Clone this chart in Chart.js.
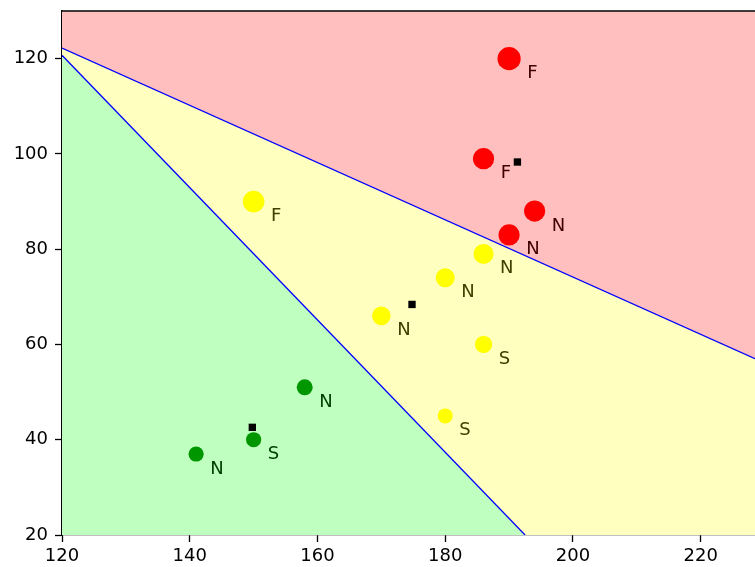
<!DOCTYPE html>
<html lang="en">
<head>
<meta charset="UTF-8">
<title>Clusters</title>
<script src="https://cdn.jsdelivr.net/npm/chart.js"></script>
<style>
  body { margin: 0; background: #fff; overflow: hidden; }
  #wrap { width: 755px; height: 567px; position: relative; }
</style>
</head>
<body>
<div id="wrap"><canvas id="chart"></canvas></div>
<script>
// points per group (x, y, label)
const redX = [190, 186, 194, 190];
const redY = [120, 99, 88, 83];
const redLabels = ['F', 'F', 'N', 'N'];

const yellowX = [150, 186, 180, 170, 186, 180];
const yellowY = [90, 79, 74, 66, 60, 45];
const yellowLabels = ['F', 'N', 'N', 'N', 'S', 'S'];

const greenX = [158, 150, 141];
const greenY = [51, 40, 37];
const greenLabels = ['N', 'S', 'N'];

// group centres (black squares)
const centreX = [191.3, 174.8, 149.8];
const centreY = [98.3, 68.4, 42.6];

// boundary lines
const line1X = [120, 228.5];
const line1Y = [122.2, 57];
const line2X = [120, 192.5];
const line2Y = [120.7, 20];

const xTicks = [120, 140, 160, 180, 200, 220];
const yTicks = [20, 40, 60, 80, 100, 120];

// marker radius (px) for each point
const redR = [11.6, 10.6, 10.6, 10.6];
const yellowR = [10.8, 10, 9.5, 9.3, 8.6, 7.5];
const greenR = [8, 7.6, 7.6];

function pts(xs, ys) {
    return xs.map((x, i) => ({ x: x, y: ys[i] }));
}

function lineAt(lx, ly, x) {
    return ly[0] + (ly[1] - ly[0]) * (x - lx[0]) / (lx[1] - lx[0]);
}

// text looks like black seen through the 25% tint of the region it sits in
function regionColour(x, y) {
    if (y > lineAt(line1X, line1Y, x)) return 'rgb(64,0,0)';
    if (x <= line2X[1] && y < lineAt(line2X, line2Y, x)) return 'rgb(0,64,0)';
    return 'rgb(64,64,0)';
}

const labelPlugin = {
    id: 'labels',
    afterDatasetsDraw(chart) {
        const ctx = chart.ctx;
        const xs = chart.scales.x, ys = chart.scales.y;
        const groups = [
            [redX, redY, redLabels, redR],
            [yellowX, yellowY, yellowLabels, yellowR],
            [greenX, greenY, greenLabels, greenR]
        ];
        ctx.save();
        ctx.font = '18px "DejaVu Sans"';
        ctx.textAlign = 'left';
        ctx.textBaseline = 'alphabetic';
        groups.forEach(g => {
            g[0].forEach((x, i) => {
                const px = xs.getPixelForValue(x);
                const py = ys.getPixelForValue(g[1][i]);
                const tx = px + g[3][i] + 6.5, ty = py + 19.5;
                ctx.fillStyle = regionColour(xs.getValueForPixel(tx + 6), ys.getValueForPixel(ty - 6));
                ctx.fillText(g[2][i], tx, ty);
            });
        });
        // top frame line
        const a = chart.chartArea;
        ctx.strokeStyle = '#000';
        ctx.lineWidth = 1.3;
        ctx.beginPath();
        ctx.moveTo(a.left, a.top);
        ctx.lineTo(a.right, a.top);
        ctx.stroke();
        ctx.restore();
    }
};

const config = {
    type: 'scatter',
    data: {
        datasets: [
            {   // yellow background
                data: pts([120, 228.5], [20, 20]),
                showLine: true, pointRadius: 0, borderWidth: 0,
                backgroundColor: '#ffffbf', fill: 'end', order: 10
            },
            {
                data: pts(line1X, line1Y),
                showLine: true, pointRadius: 0, borderWidth: 1.3,
                borderColor: '#0000ff', backgroundColor: '#ffbfbf', fill: 'end', order: 5
            },
            {
                data: pts(line2X, line2Y),
                showLine: true, pointRadius: 0, borderWidth: 1.3,
                borderColor: '#0000ff', backgroundColor: '#bfffbf', fill: 'start', order: 5
            },
            {
                data: pts(redX, redY), pointRadius: redR, borderWidth: 0,
                backgroundColor: '#ff0000', order: 2
            },
            {
                data: pts(yellowX, yellowY), pointRadius: yellowR, borderWidth: 0,
                backgroundColor: '#ffff00', order: 2
            },
            {
                data: pts(greenX, greenY), pointRadius: greenR, borderWidth: 0,
                backgroundColor: '#009600', order: 2
            },
            {
                data: pts(centreX, centreY), pointStyle: 'rect', pointRadius: 5.2, borderWidth: 0,
                backgroundColor: '#000000', order: 1
            }
        ]
    },
    options: {
        responsive: true,
        maintainAspectRatio: false,
        animation: false,
        layout: { autoPadding: false, padding: { top: 11, right: 0, left: 0, bottom: 0 } },
        plugins: { legend: { display: false }, tooltip: { enabled: false } },
        scales: {
            x: {
                type: 'linear', min: 120, max: 228.5,
                afterBuildTicks: s => { s.ticks = xTicks.map(v => ({ value: v })); },
                afterFit: s => { s.height = 32; s.paddingLeft = 0; s.paddingRight = 0; },
                grid: { display: true, drawOnChartArea: false, tickLength: 7, tickColor: '#000', tickWidth: 1.3 },
                border: { display: true, color: '#000', width: 1.3 },
                ticks: { color: '#000', padding: 4, font: { family: 'DejaVu Sans', size: 18 }, maxRotation: 0 }
            },
            y: {
                type: 'linear', min: 20, max: 130,
                afterBuildTicks: s => { s.ticks = yTicks.map(v => ({ value: v })); },
                afterFit: s => { s.width = 62; s.paddingTop = 0; s.paddingBottom = 0; },
                grid: { display: true, drawOnChartArea: false, tickLength: 7, tickColor: '#000', tickWidth: 1.3 },
                border: { display: true, color: '#000', width: 1.3 },
                ticks: { color: '#000', padding: 7, font: { family: 'DejaVu Sans', size: 18 } }
            }
        }
    },
    plugins: [labelPlugin]
};

new Chart(document.getElementById('chart'), config);
</script>
</body>
</html>
